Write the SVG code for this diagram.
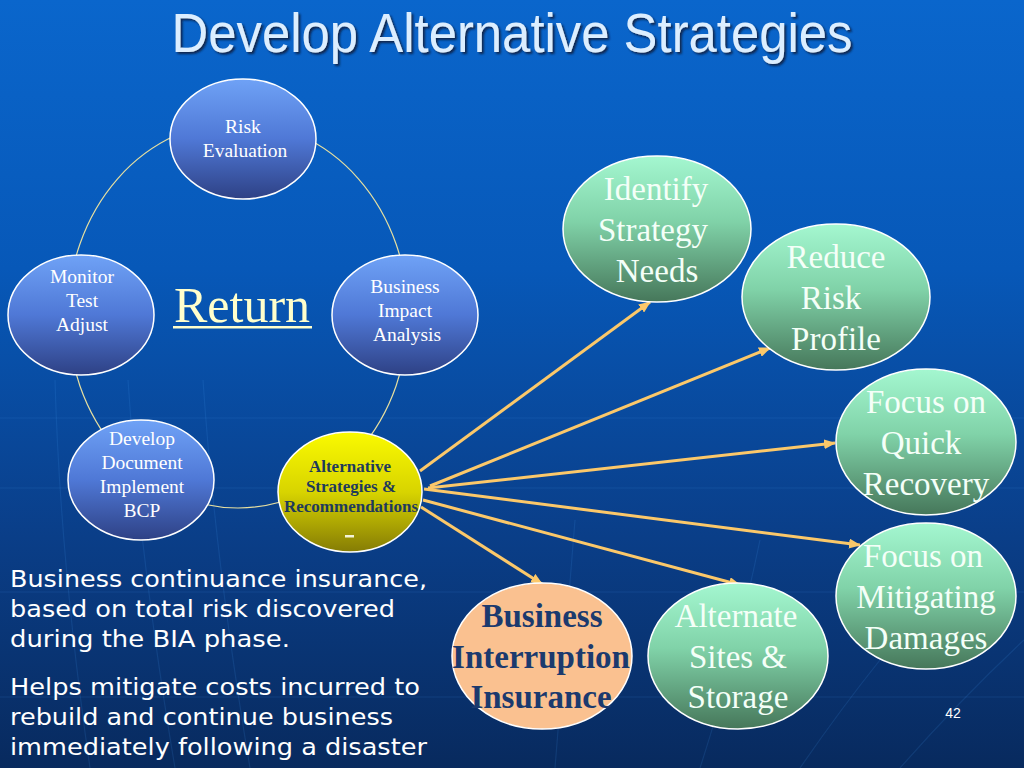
<svg xmlns="http://www.w3.org/2000/svg" width="1024" height="768" viewBox="0 0 1024 768">
<defs>
<linearGradient id="bg" x1="0" y1="0" x2="0" y2="1">
<stop offset="0" stop-color="#0A66CC"/>
<stop offset="0.35" stop-color="#0758B8"/>
<stop offset="0.7" stop-color="#0A3E88"/>
<stop offset="1" stop-color="#082A5E"/>
</linearGradient>
<linearGradient id="gBlue" x1="0" y1="0" x2="0" y2="1">
<stop offset="0" stop-color="#6FA2F6"/>
<stop offset="0.5" stop-color="#4F78D6"/>
<stop offset="1" stop-color="#2E4185"/>
</linearGradient>
<linearGradient id="gGreen" x1="0" y1="0" x2="0" y2="1">
<stop offset="0" stop-color="#A4F7D0"/>
<stop offset="0.45" stop-color="#80D2A8"/>
<stop offset="1" stop-color="#46775A"/>
</linearGradient>
<linearGradient id="gYellow" x1="0" y1="0" x2="0" y2="1">
<stop offset="0" stop-color="#FAFA00"/>
<stop offset="0.5" stop-color="#D8D400"/>
<stop offset="1" stop-color="#857C05"/>
</linearGradient>
<marker id="arr" markerWidth="12" markerHeight="10" refX="11" refY="5" orient="auto" markerUnits="userSpaceOnUse">
<path d="M0,0 L12,5 L0,10 Z" fill="#FBC86A"/>
</marker>
<filter id="sh" x="-5%" y="-20%" width="110%" height="140%">
<feDropShadow dx="2" dy="2" stdDeviation="0.8" flood-color="#0A1A40" flood-opacity="0.9"/>
</filter>
</defs>
<style>
.bn{fill:url(#gBlue);stroke:#FFFFFF;stroke-width:1.5}
.gn{fill:url(#gGreen);stroke:#FFFFFF;stroke-width:1.5}
.bt{font-family:"Liberation Serif",serif;font-size:19.5px;fill:#FFFFFF;text-anchor:middle}
.gt{font-family:"Liberation Serif",serif;font-size:33px;fill:#F4FFF8;text-anchor:middle}
.pt{font-family:"Liberation Serif",serif;font-size:33px;font-weight:bold;fill:#1B3A6E;text-anchor:middle}
.yt{font-family:"Liberation Serif",serif;font-size:17px;font-weight:bold;fill:#1E3A5C;text-anchor:middle}
.body{font-family:"DejaVu Sans",sans-serif;font-size:23.5px;fill:#FFFFFF}
.conn{stroke:#FBC86A;stroke-width:3;fill:none;marker-end:url(#arr)}
.grid{stroke:#4A9AF0;stroke-width:1.2;fill:none;opacity:0.14}
</style>
<rect x="0" y="0" width="1024" height="768" fill="url(#bg)"/>
<g id="background-grid">
<path class="grid" d="M0,418 L1024,418"/>
<path class="grid" d="M0,488 L1024,488"/>
<path class="grid" d="M0,592 L1024,592"/>
<path class="grid" d="M0,697 L1024,697"/>
<path class="grid" d="M55,380 Q60,560 90,768"/>
<path class="grid" d="M128,380 Q140,560 175,768"/>
<path class="grid" d="M203,380 Q215,560 250,768"/>
<path class="grid" d="M575,520 Q565,640 555,768"/>
<path class="grid" d="M760,540 Q735,660 700,768"/>
<path class="grid" d="M880,660 Q840,710 800,768"/>
<path class="grid" d="M1024,640 Q960,700 900,768"/>
</g>
<text x="512" y="52" font-family="Liberation Sans,Arial,sans-serif" font-size="55" fill="#DCEEFF" text-anchor="middle" textLength="681" lengthAdjust="spacingAndGlyphs" filter="url(#sh)">Develop Alternative Strategies</text>
<g id="cycle-ring">
<ellipse cx="238" cy="315" rx="170" ry="193" fill="none" stroke="#E6DFA0" stroke-width="1.2"/>
</g>
<g id="return-label">
<text x="242" y="322" font-family="Liberation Serif,serif" font-size="50" fill="#FFFFCC" text-anchor="middle">Return</text>
<rect x="173" y="326" width="139" height="2.5" fill="#FFFFCC"/>
</g>
<g id="node-risk-evaluation">
<ellipse class="bn" cx="243" cy="139" rx="73" ry="60"/>
<text class="bt" x="243" y="133">Risk</text>
<text class="bt" x="245" y="157">Evaluation</text>
</g>
<g id="node-monitor">
<ellipse class="bn" cx="81" cy="315" rx="73" ry="60"/>
<text class="bt" x="82" y="283">Monitor</text>
<text class="bt" x="82" y="307">Test</text>
<text class="bt" x="82" y="331">Adjust</text>
</g>
<g id="node-bia">
<ellipse class="bn" cx="405" cy="315" rx="73" ry="60"/>
<text class="bt" x="405" y="293">Business</text>
<text class="bt" x="405" y="317">Impact</text>
<text class="bt" x="407" y="341">Analysis</text>
</g>
<g id="node-develop">
<ellipse class="bn" cx="141" cy="480" rx="73" ry="60"/>
<text class="bt" x="142" y="445">Develop</text>
<text class="bt" x="142" y="469">Document</text>
<text class="bt" x="142" y="493">Implement</text>
<text class="bt" x="142" y="517">BCP</text>
</g>
<g id="connectors">
<line class="conn" x1="420" y1="471" x2="650" y2="302"/>
<line class="conn" x1="430" y1="486" x2="770" y2="348"/>
<line class="conn" x1="428" y1="488" x2="835" y2="443"/>
<line class="conn" x1="424" y1="489" x2="860" y2="545"/>
<line class="conn" x1="423" y1="500" x2="740" y2="585"/>
<line class="conn" x1="421" y1="507" x2="542" y2="584"/>
</g>
<g id="node-alternative">
<ellipse cx="350" cy="492" rx="72" ry="60" fill="url(#gYellow)" stroke="#FFFFFF" stroke-width="1.5"/>
<text class="yt" x="350" y="472">Alternative</text>
<text class="yt" x="351" y="492">Strategies &amp;</text>
<text class="yt" x="351" y="512">Recommendations</text>
<rect x="345" y="535" width="9" height="2.5" fill="#F4F4D8"/>
</g>
<g id="node-identify">
<ellipse class="gn" cx="657" cy="229" rx="94" ry="73"/>
<text class="gt" x="656" y="200">Identify</text>
<text class="gt" x="653" y="241">Strategy</text>
<text class="gt" x="657" y="282">Needs</text>
</g>
<g id="node-reduce">
<ellipse class="gn" cx="836" cy="297" rx="94" ry="73"/>
<text class="gt" x="836" y="268">Reduce</text>
<text class="gt" x="831" y="309">Risk</text>
<text class="gt" x="836" y="350">Profile</text>
</g>
<g id="node-quick-recovery">
<ellipse class="gn" cx="926" cy="442" rx="90" ry="73"/>
<text class="gt" x="926" y="413">Focus on</text>
<text class="gt" x="921" y="454">Quick</text>
<text class="gt" x="926" y="495">Recovery</text>
</g>
<g id="node-mitigating">
<ellipse class="gn" cx="926" cy="596" rx="90" ry="73"/>
<text class="gt" x="923" y="567">Focus on</text>
<text class="gt" x="926" y="608">Mitigating</text>
<text class="gt" x="926" y="649">Damages</text>
</g>
<g id="node-alternate-sites">
<ellipse class="gn" cx="738" cy="656" rx="90" ry="73"/>
<text class="gt" x="736" y="627">Alternate</text>
<text class="gt" x="738" y="668">Sites &amp;</text>
<text class="gt" x="738" y="708">Storage</text>
</g>
<g id="node-business-interruption">
<ellipse cx="542" cy="656" rx="90" ry="73" fill="#FAC190" stroke="#FFFFFF" stroke-width="1.5"/>
<text class="pt" x="542" y="627">Business</text>
<text class="pt" x="541" y="668">Interruption</text>
<text class="pt" x="541" y="708">Insurance</text>
</g>
<g id="notes">
<text class="body" x="10" y="587" textLength="417" lengthAdjust="spacingAndGlyphs">Business continuance insurance,</text>
<text class="body" x="10" y="617" textLength="385" lengthAdjust="spacingAndGlyphs">based on total risk discovered</text>
<text class="body" x="10" y="647" textLength="280" lengthAdjust="spacingAndGlyphs">during the BIA phase.</text>
<text class="body" x="10" y="695" textLength="410" lengthAdjust="spacingAndGlyphs">Helps mitigate costs incurred to</text>
<text class="body" x="10" y="725" textLength="383" lengthAdjust="spacingAndGlyphs">rebuild and continue business</text>
<text class="body" x="10" y="755" textLength="417" lengthAdjust="spacingAndGlyphs">immediately following a disaster</text>
</g>
<text x="953" y="718" font-family="Liberation Sans,Arial,sans-serif" font-size="14" fill="#FFFFFF" text-anchor="middle">42</text>
</svg>
